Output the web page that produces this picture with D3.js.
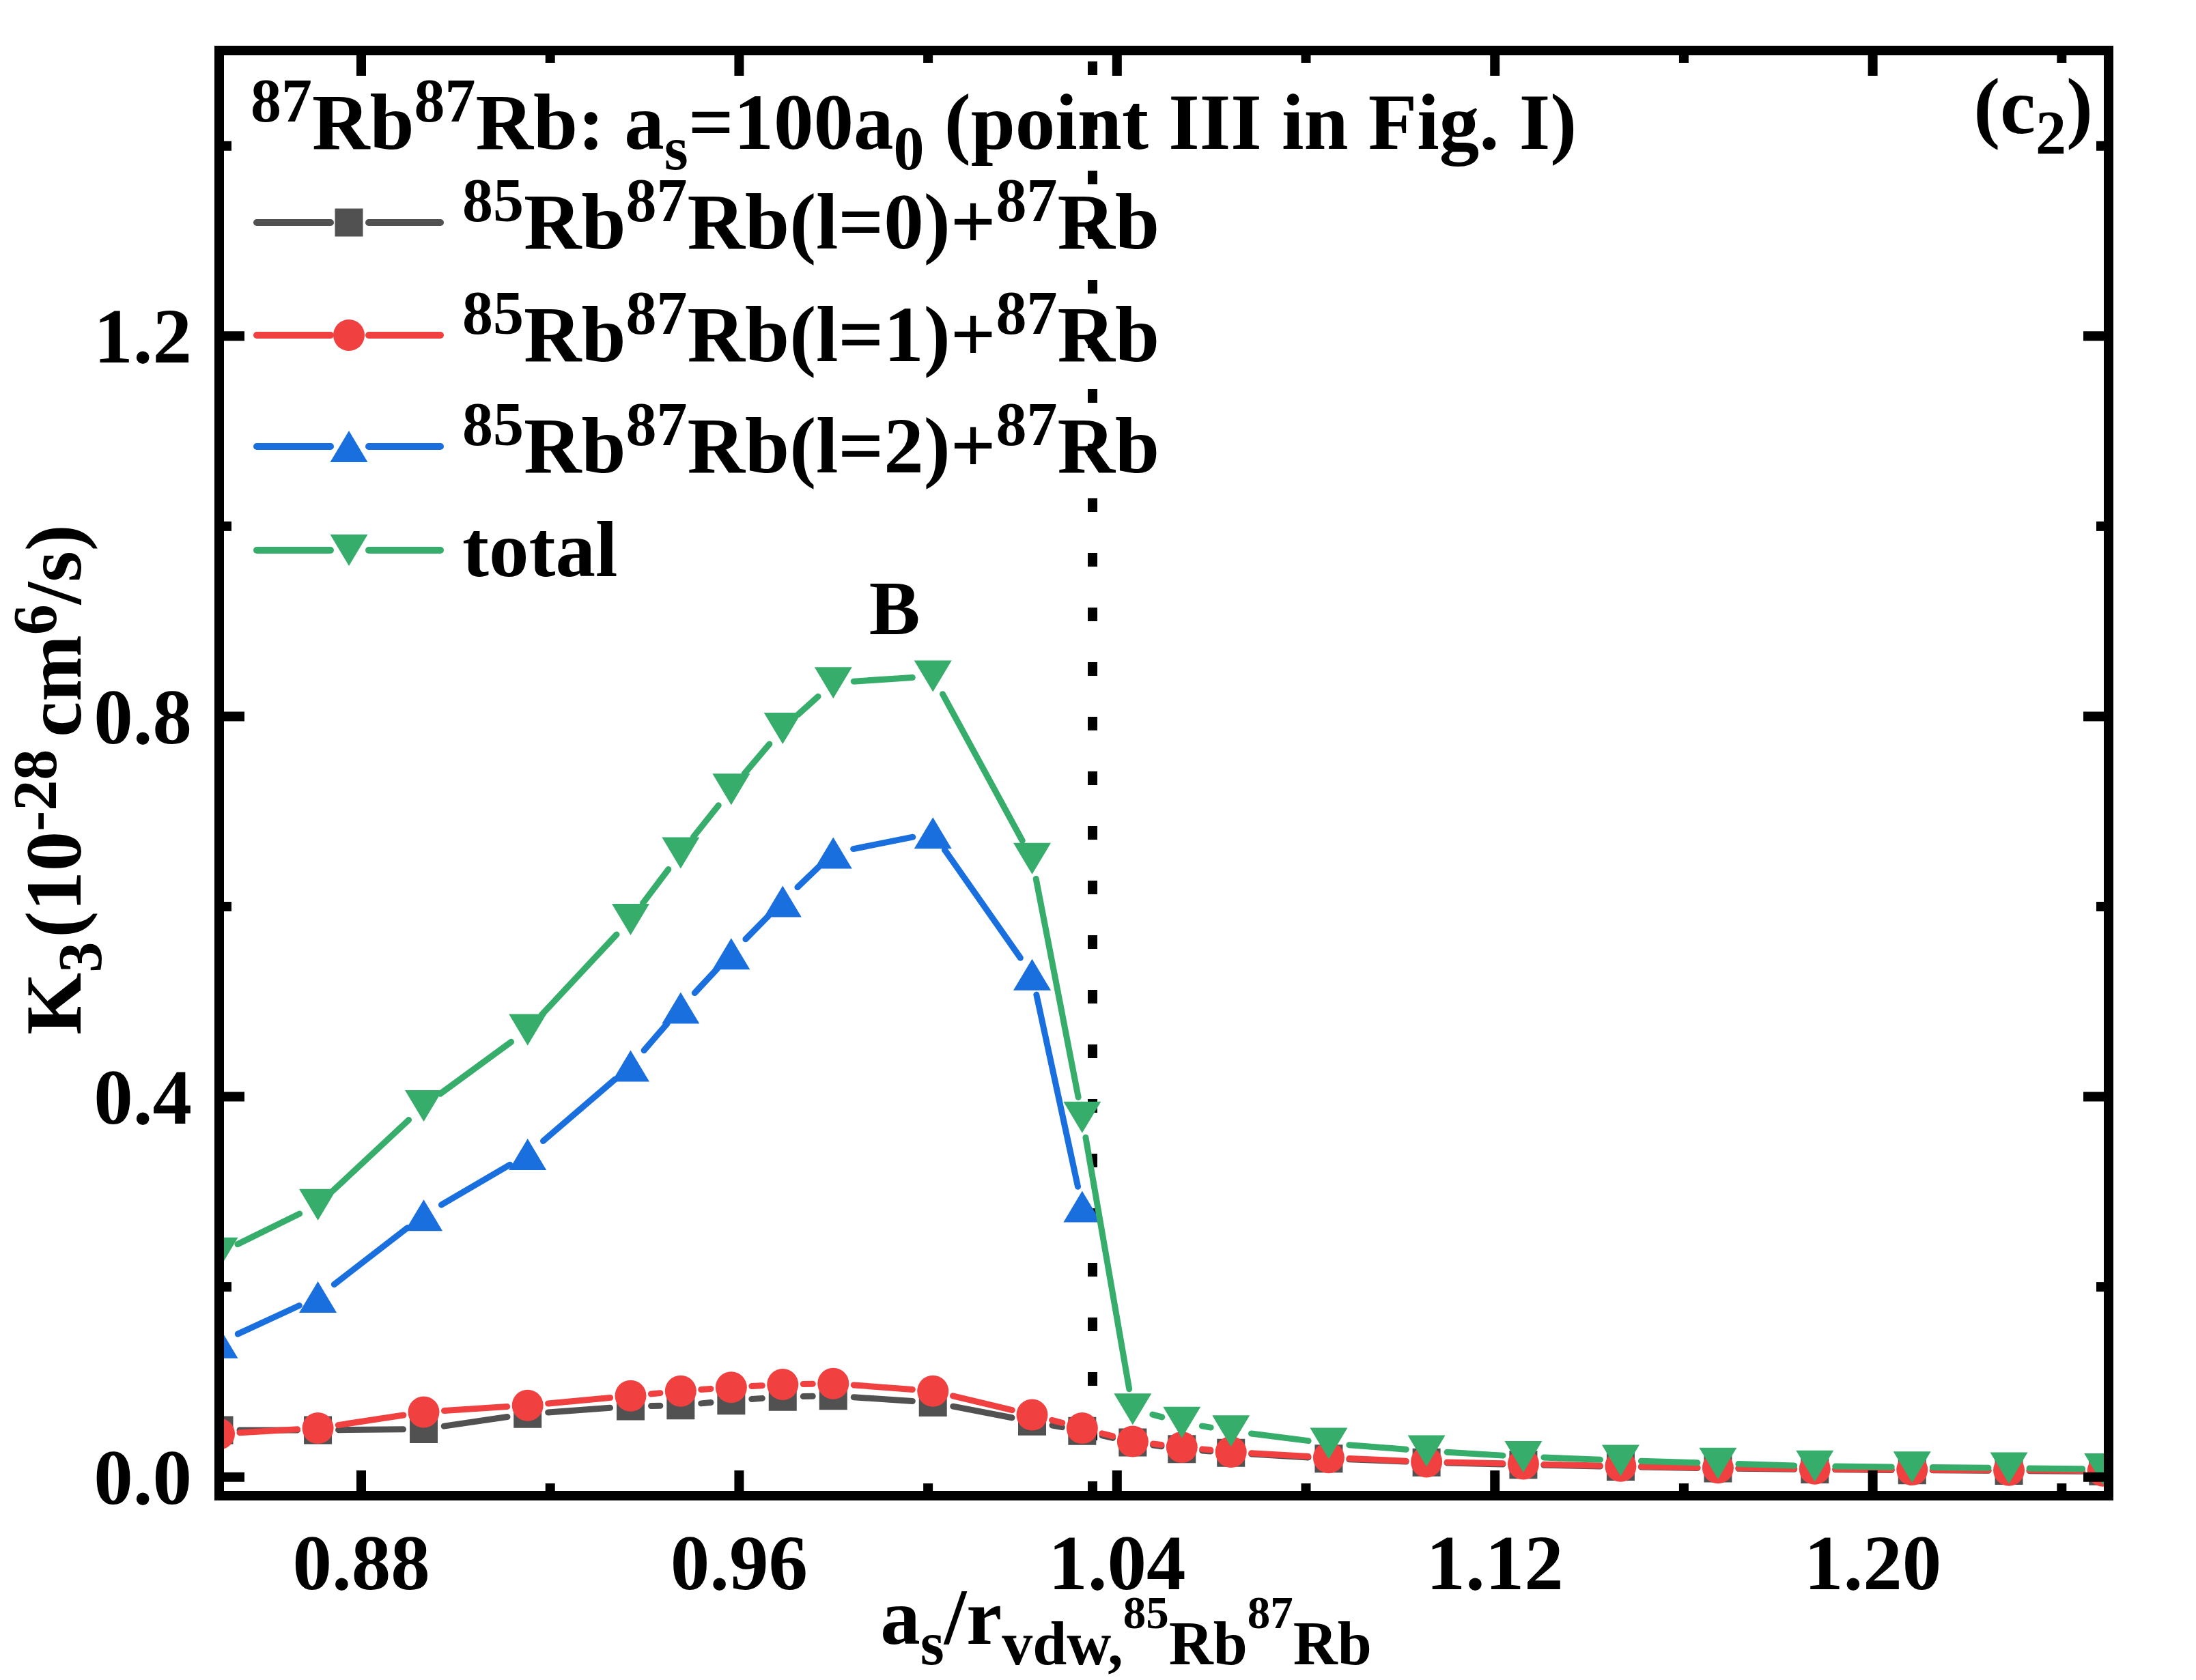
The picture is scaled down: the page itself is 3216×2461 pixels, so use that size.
<!DOCTYPE html>
<html>
<head>
<meta charset="utf-8">
<script src="https://cdn.jsdelivr.net/npm/d3@7"></script>
<style>
  html, body { margin: 0; padding: 0; background: #fff; }
  svg { display: block; }
  text { font-family: "Liberation Serif", "Times New Roman", serif; font-weight: bold; }
</style>
</head>
<body>
<div id="chart"></div>
<script>
// values
var xVals = [0.8500, 0.8709, 0.8933, 0.9153, 0.9371, 0.9477, 0.9584, 0.9693, 0.9800, 1.0011, 1.0221, 1.0327,
             1.0434, 1.0538, 1.0642, 1.0849, 1.1056, 1.1261, 1.1467, 1.1673, 1.1878, 1.2084, 1.2289, 1.2488];
var l0Vals = [0.049, 0.049, 0.050, 0.066, 0.074, 0.075, 0.080, 0.084, 0.085, 0.078, 0.058, 0.048,
              0.036, 0.029, 0.025, 0.019, 0.015, 0.0125, 0.0105, 0.0088, 0.0076, 0.0068, 0.0062, 0.0056];
var l1Vals = [0.045, 0.051, 0.068, 0.075, 0.085, 0.090, 0.094, 0.097, 0.098, 0.090, 0.065, 0.051,
              0.037, 0.031, 0.026, 0.020, 0.0156, 0.0134, 0.011, 0.0093, 0.0081, 0.0072, 0.0067, 0.006];
var l2Vals = [0.141, 0.189, 0.275, 0.339, 0.432, 0.493, 0.550, 0.605, 0.656, 0.677, 0.528, 0.284];
var totalVals = [0.235, 0.286, 0.390, 0.470, 0.586, 0.656, 0.723, 0.787, 0.835, 0.842, 0.650, 0.378,
                 0.071, 0.057, 0.048, 0.035, 0.027, 0.021, 0.017, 0.014, 0.011, 0.010, 0.009, 0.008];

var xMajor = [0.88, 0.96, 1.04, 1.12, 1.20];
var xMinor = [0.92, 1.00, 1.08, 1.16, 1.24];
var yMajor = [0.0, 0.4, 0.8, 1.2];
var yMinor = [0.2, 0.6, 1.0, 1.4];
var vLineX = 1.0349;

var W = 3216, H = 2461;
var F = 117, FS = 90, FSS = 67;   // main, script, script-of-script sizes
var colors = {l0: "#515151", l1: "#F14040", l2: "#1A6FDF", tot: "#37AD6B"};

var svg = d3.select("#chart").append("svg").attr("width", W).attr("height", H);

var x = d3.scaleLinear().domain([0.85, 1.25]).range([321, 3088]);
var y = d3.scaleLinear().domain([-0.02, 1.5]).range([2191, 74]);

svg.append("defs").append("clipPath").attr("id", "plotclip")
    .append("rect")
    .attr("x", x.range()[0]).attr("y", y.range()[1])
    .attr("width", x.range()[1] - x.range()[0])
    .attr("height", y.range()[0] - y.range()[1]);

var plot = svg.append("g").attr("clip-path", "url(#plotclip)");

// vertical dotted line
plot.append("line")
    .attr("x1", x(vLineX)).attr("x2", x(vLineX))
    .attr("y1", y.range()[1]).attr("y2", y.range()[0])
    .attr("stroke", "#000").attr("stroke-width", 14)
    .attr("stroke-dasharray", "20 60").attr("stroke-dashoffset", 64);

// marker shapes
function shapePath(kind) {
    if (kind === "square") return "M-20.5,-20.5h41v41h-41z";
    if (kind === "up") return "M0,-23L27.5,23L-27.5,23Z";
    if (kind === "down") return "M0,23L27.5,-23L-27.5,-23Z";
    return d3.arc()({innerRadius: 0, outerRadius: 23, startAngle: 0, endAngle: 2 * Math.PI});
}

var gap = 30;
function gappedSegments(pts) {
    return d3.pairs(pts).map(function (p) {
        var a = p[0], b = p[1];
        var dx = b[0] - a[0], dy = b[1] - a[1], len = Math.sqrt(dx * dx + dy * dy);
        if (len <= 2 * gap) return null;
        var ux = dx / len, uy = dy / len;
        return [a[0] + ux * gap, a[1] + uy * gap, b[0] - ux * gap, b[1] - uy * gap];
    }).filter(function (s) { return s; });
}

function drawSeries(vals, color, kind) {
    var pts = vals.map(function (v, i) { return [x(xVals[i]), y(v)]; });
    var g = plot.append("g");
    g.selectAll("line").data(gappedSegments(pts)).join("line")
        .attr("x1", function (d) { return d[0]; }).attr("y1", function (d) { return d[1]; })
        .attr("x2", function (d) { return d[2]; }).attr("y2", function (d) { return d[3]; })
        .attr("stroke", color).attr("stroke-width", 9).attr("stroke-linecap", "round");
    g.selectAll("path").data(pts).join("path")
        .attr("transform", function (d) { return "translate(" + d[0] + "," + d[1] + ")"; })
        .attr("d", shapePath(kind))
        .attr("fill", color);
}

drawSeries(l0Vals, colors.l0, "square");
drawSeries(l1Vals, colors.l1, "circle");
drawSeries(l2Vals, colors.l2, "up");
drawSeries(totalVals, colors.tot, "down");

// axes: ticks inward on all four sides
function styleAxis(g) {
    g.select(".domain").remove();
    g.selectAll(".tick line").attr("stroke", "#000").attr("stroke-width", 14);
    g.attr("font-family", null).attr("font-size", 115).attr("fill", "#000");
    g.selectAll(".tick text").attr("fill", "#000");
}

var fmtX = d3.format(".2f"), fmtY = d3.format(".1f");

svg.append("g").attr("transform", "translate(0," + y.range()[0] + ")")
    .call(d3.axisBottom(x).tickValues(xMajor).tickSize(-37).tickFormat(fmtX))
    .call(styleAxis)
    .call(function (g) { g.selectAll(".tick text").attr("y", 137).attr("dy", null); });
svg.append("g").attr("transform", "translate(0," + y.range()[0] + ")")
    .call(d3.axisBottom(x).tickValues(xMinor).tickSize(-18).tickFormat(""))
    .call(styleAxis);
svg.append("g").attr("transform", "translate(0," + y.range()[1] + ")")
    .call(d3.axisTop(x).tickValues(xMajor).tickSize(-37).tickFormat(""))
    .call(styleAxis);
svg.append("g").attr("transform", "translate(0," + y.range()[1] + ")")
    .call(d3.axisTop(x).tickValues(xMinor).tickSize(-18).tickFormat(""))
    .call(styleAxis);

svg.append("g").attr("transform", "translate(" + x.range()[0] + ",0)")
    .call(d3.axisLeft(y).tickValues(yMajor).tickSize(-37).tickPadding(40).tickFormat(fmtY))
    .call(styleAxis)
    .call(function (g) { g.selectAll(".tick text").attr("dy", "0.34em"); });
svg.append("g").attr("transform", "translate(" + x.range()[0] + ",0)")
    .call(d3.axisLeft(y).tickValues(yMinor).tickSize(-18).tickFormat(""))
    .call(styleAxis);
svg.append("g").attr("transform", "translate(" + x.range()[1] + ",0)")
    .call(d3.axisRight(y).tickValues(yMajor).tickSize(-37).tickFormat(""))
    .call(styleAxis);
svg.append("g").attr("transform", "translate(" + x.range()[1] + ",0)")
    .call(d3.axisRight(y).tickValues(yMinor).tickSize(-18).tickFormat(""))
    .call(styleAxis);

// frame
svg.append("rect")
    .attr("x", x.range()[0]).attr("y", y.range()[1])
    .attr("width", x.range()[1] - x.range()[0])
    .attr("height", y.range()[0] - y.range()[1])
    .attr("fill", "none").attr("stroke", "#000").attr("stroke-width", 14);

// rich text helper: parts = [[text, size, offset, dx]] offset = baseline shift (+ down)
function richText(sel, parts) {
    var cur = 0;
    parts.forEach(function (p) {
        var ts = sel.append("tspan").attr("font-size", p[1]).text(p[0]);
        var off = p[2] || 0;
        if (off !== cur) ts.attr("dy", off - cur);
        if (p[3]) ts.attr("dx", p[3]);
        cur = off;
    });
    return sel;
}
var SUP = -40, SUB = 30;

// title
richText(svg.append("text").attr("x", 367).attr("y", 218), [
    ["87", FS, SUP], ["Rb", F, 0], ["87", FS, SUP], ["Rb: a", F, 0], ["s", FS, SUB],
    ["=100a", F, 0], ["0", FS, SUB], [" (point III in Fig. I)", F, 0]
]);

// panel label
richText(svg.append("text").attr("x", 3065).attr("y", 195).attr("text-anchor", "end"), [
    ["(c", F, 0], ["2", FS, SUB], [")", F, 0]
]);

// peak label
svg.append("text").attr("x", x(0.993)).attr("y", y(0.886))
    .attr("text-anchor", "middle").attr("font-size", 112).text("B");

// legend
var legendRows = [
    {key: "l0", kind: "square", l: "0", yy: 326},
    {key: "l1", kind: "circle", l: "1", yy: 491},
    {key: "l2", kind: "up", l: "2", yy: 654},
    {key: "tot", kind: "down", l: null, yy: 806}
];
var leg = svg.append("g");
legendRows.forEach(function (r) {
    var c = colors[r.key];
    leg.append("line").attr("x1", 376).attr("x2", 484).attr("y1", r.yy).attr("y2", r.yy)
        .attr("stroke", c).attr("stroke-width", 10).attr("stroke-linecap", "round");
    leg.append("line").attr("x1", 540).attr("x2", 645).attr("y1", r.yy).attr("y2", r.yy)
        .attr("stroke", c).attr("stroke-width", 10).attr("stroke-linecap", "round");
    leg.append("path").attr("transform", "translate(511," + r.yy + ")")
        .attr("d", shapePath(r.kind)).attr("fill", c);
    var t = leg.append("text").attr("x", 677).attr("y", r.yy + 38);
    if (r.l === null) {
        richText(t, [["total", F, 0]]);
    } else {
        richText(t, [["85", FS, SUP], ["Rb", F, 0], ["87", FS, SUP], ["Rb(l=" + r.l + ")+", F, 0],
                     ["87", FS, SUP], ["Rb", F, 0]]);
    }
});

// x axis title
richText(svg.append("text").attr("x", 1649).attr("y", 2408).attr("text-anchor", "middle"), [
    ["a", F, 0], ["s", FS, SUB], ["/r", F, 0], ["vdw,", FS, SUB], ["85", FSS, -23],
    ["Rb", FS, SUB], ["87", FSS, -23], ["Rb", FS, SUB]
]);

// y axis title
richText(svg.append("text").attr("transform", "translate(118,1142) rotate(-90)")
    .attr("text-anchor", "middle"), [
    ["K", F, 0], ["3", FS, SUB], ["(10", F, 0, 6], ["-28", FS, -36], ["cm", F, 0, 18],
    ["6", FS, -36], ["/s)", F, 0]
]);
</script>
</body>
</html>
